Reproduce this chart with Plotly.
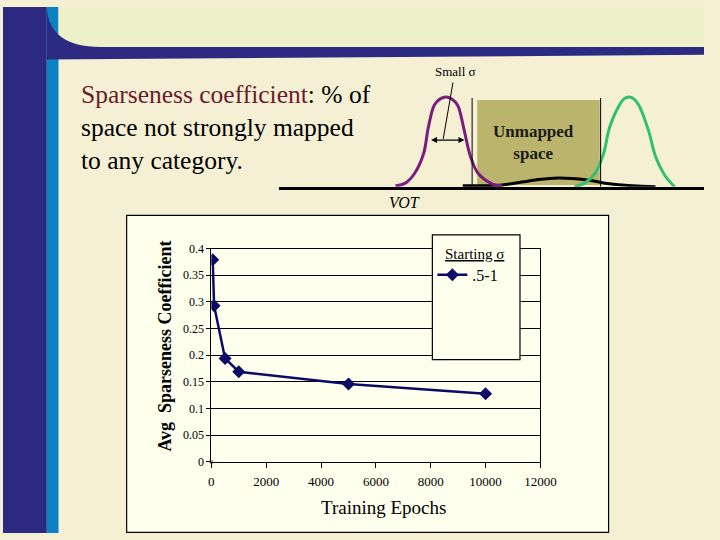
import plotly.graph_objects as go

W, H = 720, 540
def px(x): return x / W
def py(y): return 1 - y / H

# ---- chart data ----
epochs = [50, 100, 500, 1000, 5000, 10000]
sparseness = [0.379, 0.293, 0.194, 0.169, 0.146, 0.128]
origin_x = [0]
origin_y = [0]
x_ticks = [0, 2000, 4000, 6000, 8000, 10000, 12000]
x_tick_labels = ["0", "2000", "4000", "6000", "8000", "10000", "12000"]
y_ticks = [0, 0.05, 0.1, 0.15, 0.2, 0.25, 0.3, 0.35, 0.4]
y_tick_labels = ["0", "0.05", "0.1", "0.15", "0.2", "0.25", "0.3", "0.35", "0.4"]
series_name = ".5-1"

# ---- illustrative diagram (VOT units 0-100, relative height) ----
purple_vot = [27.5, 29.8, 32.0, 34.1, 35.2, 36.6, 38.0, 39.4, 40.7, 42.1, 43.5, 45.1, 46.9, 50.3, 52.6]
purple_h = [0.01, 0.04, 0.15, 0.37, 0.66, 0.91, 0.98, 1.0, 0.98, 0.91, 0.66, 0.34, 0.15, 0.03, 0.01]
green_vot = [69.6, 71.9, 74.4, 76.4, 77.8, 80.1, 81.2, 82.4, 83.5, 84.7, 87.0, 88.6, 90.9, 93.1]
green_h = [0.0, 0.04, 0.15, 0.37, 0.66, 0.91, 0.98, 1.0, 0.98, 0.91, 0.62, 0.34, 0.12, 0.0]
flat_vot = [43.3, 52.6, 60.4, 65.7, 72.5, 77.8, 83.3, 88.6]
flat_h = [0.01, 0.02, 0.076, 0.098, 0.076, 0.033, 0.011, 0.0]
gap_left, gap_right = 45.5, 75.7
box_left, box_right = 46.7, 75.5

NAVY = "#2D2A82"
BLUE = "#0A82C3"
CREAM = "#F5F0D4"
PANEL = "#EEF0C9"
CHART_BG = "#FFFFEE"
LINE = "#0B0B66"
SERIF = "Liberation Serif, Times New Roman, serif"

fig = go.Figure()

fig.add_trace(go.Scatter(
    x=epochs, y=sparseness, mode="lines+markers", name=series_name,
    line=dict(color=LINE, width=2.5),
    marker=dict(symbol="diamond", size=10, color=LINE),
    xaxis="x", yaxis="y"))
fig.add_trace(go.Scatter(
    x=origin_x, y=origin_y, mode="markers", showlegend=False,
    marker=dict(size=4, color="#C8865A"), cliponaxis=False,
    xaxis="x", yaxis="y"))

# diagram curves
fig.add_trace(go.Scatter(x=flat_vot, y=flat_h, mode="lines", line=dict(color="black", width=3, shape="spline"),
                         showlegend=False, xaxis="x2", yaxis="y2"))
fig.add_trace(go.Scatter(x=purple_vot, y=purple_h, mode="lines", line=dict(color="#7A1E7C", width=3, shape="spline"),
                         showlegend=False, xaxis="x2", yaxis="y2"))
fig.add_trace(go.Scatter(x=green_vot, y=green_h, mode="lines", line=dict(color="#2FC070", width=3, shape="spline"),
                         showlegend=False, xaxis="x2", yaxis="y2"))

shapes = [
    # slide decoration
    dict(type="rect", xref="paper", yref="paper", x0=px(0), x1=px(45), y0=0, y1=1,
         fillcolor=NAVY, line_width=0, layer="below"),
    dict(type="rect", xref="paper", yref="paper", x0=px(45), x1=px(57), y0=0, y1=1,
         fillcolor=BLUE, line_width=0, layer="below"),
    dict(type="rect", xref="paper", yref="paper", x0=px(57), x1=1, y0=py(41), y1=1,
         fillcolor=PANEL, line_width=0, layer="below"),
    dict(type="path", xref="paper", yref="paper",
         path=f"M {px(45)},{py(0)} Q {px(47)},{py(41)} {px(100)},{py(41)} L 1,{py(41)} L 1,{py(49)} L {px(45)},{py(54)} Z",
         fillcolor=NAVY, line_width=0, layer="below"),
    # chart frame
    dict(type="rect", xref="paper", yref="paper", x0=px(127), x1=px(622), y0=py(539.4), y1=py(214),
         fillcolor=CHART_BG, line=dict(color="black", width=1.2), layer="below"),
    # legend box
    dict(type="rect", xref="paper", yref="paper", x0=px(441), x1=px(531), y0=py(362), y1=py(234),
         fillcolor=CHART_BG, line=dict(color="black", width=1.2), layer="above"),
    # diagram
    dict(type="rect", xref="x2", yref="y2", x0=box_left, x1=box_right, y0=0.02, y1=0.967,
         fillcolor="#BAB46C", line_width=0, layer="below"),
    dict(type="line", xref="x2", yref="y2", x0=gap_left, x1=gap_left, y0=0, y1=0.99,
         line=dict(color="black", width=1)),
    dict(type="line", xref="x2", yref="y2", x0=gap_right, x1=gap_right, y0=0, y1=0.99,
         line=dict(color="black", width=1)),
    dict(type="line", xref="x2", yref="y2", x0=41.0, x1=38.7, y0=1.163, y1=0.533,
         line=dict(color="black", width=1)),
]

def note(x, y, text, size, **kw):
    d = dict(xref="paper", yref="paper", x=px(x), y=py(y), showarrow=False, text=text,
             xanchor="center", yanchor="middle", font=dict(family=SERIF, size=size, color="black"))
    d.update(kw)
    return d

annotations = [
    dict(xref="paper", yref="paper", x=px(78), y=py(124), xanchor="left", yanchor="middle",
         align="left", showarrow=False,
         text="<span style='color:#6B1B2B'>Sparseness coefficient</span>: % of<br>space not strongly mapped<br>to any category.",
         font=dict(family=SERIF, size=25.5, color="black")),
    dict(xref="x2", yref="y2", x=60.0, y=0.49, showarrow=False, xanchor="center", yanchor="middle",
         text="<b>Unmapped<br>space</b>", font=dict(family=SERIF, size=17, color="#1A1A1A")),
    note(465, 66, "Small σ", 13),
    note(412, 201, "<i>VOT</i>", 16),
    dict(xref="x2", yref="y2", axref="x2", ayref="y2", x=43.7, y=0.52, ax=35.5, ay=0.52,
         showarrow=True, arrowhead=2, arrowside="end+start", arrowsize=1, arrowwidth=1.2,
         arrowcolor="black", text=""),
    # axis titles
    note(166, 348, "<b>Avg  Sparseness Coefficient</b>", 18, textangle=-90),
    note(391, 514, "Training Epochs", 19),
    # legend title
    note(484, 254, "Starting σ", 15,
         font=dict(family=SERIF, size=15, color="black", lineposition="under")),
]

# initial size fits inside the default 8px body margin; resized to full 720x540 once margins are removed
fig.update_layout(
    width=W - 16, height=H - 16, autosize=False, margin=dict(l=0, r=0, t=0, b=0),
    paper_bgcolor=CREAM, plot_bgcolor="rgba(0,0,0,0)",
    shapes=shapes, annotations=annotations,
    showlegend=True,
    legend=dict(x=px(441), y=py(275), xanchor="left", yanchor="middle",
                bgcolor="rgba(0,0,0,0)", borderwidth=0,
                font=dict(family=SERIF, size=16, color="black"), itemwidth=30),
    xaxis=dict(domain=[px(214), px(552)], range=[0, 12000], tickvals=x_ticks, ticktext=x_tick_labels,
               ticks="outside", ticklen=5, tickcolor="black", showgrid=False, zeroline=False,
               showline=True, linecolor="black", linewidth=1, mirror=True,
               tickfont=dict(family=SERIF, size=13, color="black"), ticklabelstandoff=3,
               anchor="y"),
    yaxis=dict(domain=[py(467), py(248)], range=[0, 0.4], tickvals=y_ticks, ticktext=y_tick_labels,
               ticks="outside", ticklen=4, tickcolor="black", showgrid=True, gridcolor="black",
               gridwidth=1, zeroline=False, showline=True, linecolor="black", linewidth=1, mirror=True,
               tickfont=dict(family=SERIF, size=12, color="black"), anchor="x"),
    xaxis2=dict(domain=[px(283), 1], range=[0, 100], showgrid=False, zeroline=False,
                showticklabels=False, ticks="", showline=True, linecolor="black", linewidth=3,
                anchor="y2", fixedrange=True),
    yaxis2=dict(domain=[py(184.5), py(60.3)], range=[0, 1.35], visible=False, anchor="x2",
                fixedrange=True),
)

post = (
    "document.documentElement.style.margin='0';document.documentElement.style.padding='0';"
    "document.body.style.margin='0';document.body.style.padding='0';"
    "document.documentElement.style.background='" + CREAM + "';"
    "var g=document.getElementById('{plot_id}');"
    "g.style.width='720px';g.style.height='540px';"
    "Plotly.relayout(g,{width:720,height:540});"
)
fig.write_html("out.html", config={"displayModeBar": False, "responsive": False}, post_script=post)
